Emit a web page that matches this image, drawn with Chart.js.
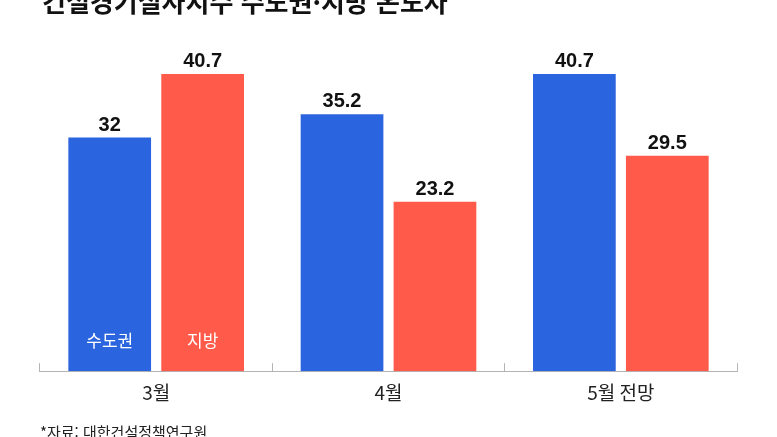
<!DOCTYPE html>
<html lang="ko">
<head>
<meta charset="utf-8">
<script src="https://cdn.jsdelivr.net/npm/chart.js@4.4.1/dist/chart.umd.min.js"></script>
<style>
  html, body { margin: 0; padding: 0; background: #fff; overflow: hidden; }
  #wrap { position: relative; width: 777px; height: 437px; }
  #title {
    position: absolute; left: 42px; top: -12px; margin: 0;
    font: 700 26px/26px 'Noto Sans CJK KR', sans-serif; color: #111; white-space: nowrap;
  }
  #source {
    position: absolute; left: 40px; top: 424px; margin: 0;
    font: 400 15px/15px 'Noto Sans CJK KR', sans-serif; color: #222; white-space: nowrap;
  }
</style>
</head>
<body>
<div id="wrap">
  <canvas id="myChart" width="777" height="437"></canvas>
  <h1 id="title">건설경기실사지수 수도권·지방 온도차</h1>
  <p id="source">*자료: 대한건설정책연구원</p>
</div>
<script>
var categories = ['3월', '4월', '5월 전망'];
var seriesNames = ['수도권', '지방'];
var capitalArea = [32, 35.2, 40.7];
var regions = [40.7, 23.2, 29.5];
var colors = ['#2b64df', '#ff5a4a'];

// numbers above each bar
var valueLabels = {
    id: 'valueLabels',
    afterDatasetsDraw: function(chart) {
        var ctx = chart.ctx;
        ctx.save();
        ctx.font = "bold 20px 'Liberation Sans', Arial, sans-serif";
        ctx.fillStyle = '#111';
        ctx.textAlign = 'center';
        ctx.textBaseline = 'alphabetic';
        chart.data.datasets.forEach(function(ds, i) {
            chart.getDatasetMeta(i).data.forEach(function(bar, j) {
                ctx.fillText(String(ds.data[j]), bar.x, bar.y - 7);
            });
        });
        ctx.restore();
    }
};

// series names written inside the first pair of bars
var seriesTags = {
    id: 'seriesTags',
    afterDatasetsDraw: function(chart) {
        var ctx = chart.ctx;
        var base = chart.scales.y.getPixelForValue(0);
        ctx.save();
        ctx.font = "17px 'Noto Sans CJK KR', sans-serif";
        ctx.fillStyle = '#fff';
        ctx.textAlign = 'center';
        ctx.textBaseline = 'middle';
        chart.data.datasets.forEach(function(ds, i) {
            var bar = chart.getDatasetMeta(i).data[0];
            ctx.fillText(ds.label, bar.x, base - 31);
        });
        ctx.restore();
    }
};

const data = {
    labels: categories,
    datasets: [{
        label: seriesNames[0],
        data: capitalArea,
        backgroundColor: colors[0]
    }, {
        label: seriesNames[1],
        data: regions,
        backgroundColor: colors[1]
    }]
};

const config = {
    type: 'bar',
    data: data,
    options: {
        responsive: false,
        animation: false,
        categoryPercentage: 0.8,
        barPercentage: 0.89,
        layout: {
            padding: { top: 50, left: 40, right: 40, bottom: 15 }
        },
        scales: {
            x: {
                grid: {
                    offset: true,
                    drawOnChartArea: false,
                    color: '#b4b4b4',
                    tickLength: -8
                },
                border: { color: '#b4b4b4', width: 1 },
                ticks: {
                    padding: 18,
                    color: '#222',
                    font: { family: "'Noto Sans CJK KR', sans-serif", size: 19 }
                }
            },
            y: {
                display: false,
                beginAtZero: true,
                min: 0,
                max: 44
            }
        },
        plugins: {
            legend: { display: false },
            tooltip: { enabled: false }
        }
    },
    plugins: [valueLabels, seriesTags]
};

const myChart = new Chart(document.getElementById('myChart'), config);
</script>
</body>
</html>
